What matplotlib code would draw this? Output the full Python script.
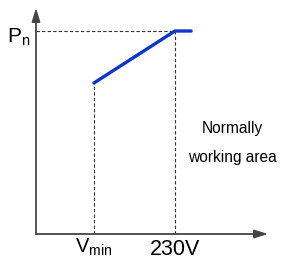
import matplotlib
matplotlib.use("Agg")
import matplotlib.pyplot as plt

# Data (voltage in V, power normalized to Pn)
volts = [190, 230, 238]
power = [0.744, 1.0, 1.0]
v_min = 190
v_rated = 230
p_n = 1.0
x_labels = ["V$_{\\mathregular{min}}$", "230V"]

plt.rcParams['font.family'] = ['Liberation Sans', 'DejaVu Sans']

fig = plt.figure(figsize=(2.81, 2.59), dpi=100)
W, H = 281, 259
ox, oy = 36, 234
xr, yt = 268, 8
ax = fig.add_axes([ox / W, (H - oy) / H, (xr - ox) / W, (oy - yt) / H])
xmin = 161.4
xmax = xmin + (xr - ox) * 40 / 81
ax.set_xlim(xmin, xmax)
ax.set_ylim(0, (oy - yt) / (oy - 31))
ax.axis('off')

axc = '#444444'
for tip in [(1, 0), (0, 1)]:
    ax.annotate('', xy=tip, xytext=(0, 0), xycoords='axes fraction',
                arrowprops=dict(arrowstyle='-|>,head_length=0.8,head_width=0.25', color=axc, lw=1.3,
                                shrinkA=0, shrinkB=0), annotation_clip=False)

dash = dict(color='#333333', lw=0.8, linestyle=(0, (3, 2)))
ax.plot([xmin, v_rated], [p_n, p_n], **dash)
ax.plot([v_min, v_min], [0, power[0]], **dash)
ax.plot([v_rated, v_rated], [0, p_n], **dash)

ax.plot(volts, power, color='#0a35d0', lw=2.4, solid_capstyle='round')

ax.text(xmin - 2.9, 0.946, "P$_{\\mathregular{n}}$", ha='right', va='baseline', fontsize=15)
ax.text(v_min, -0.094, x_labels[0], ha='center', va='baseline', fontsize=14.5)
ax.text(v_rated, -0.101, x_labels[1], ha='center', va='baseline', fontsize=15.5)
ax.text(258.2, 0.4975, "Normally", ha='center', va='baseline', fontsize=11.2)
ax.text(258.2, 0.355, "working area", ha='center', va='baseline', fontsize=11.2)

fig.savefig('out.png', dpi=100)
